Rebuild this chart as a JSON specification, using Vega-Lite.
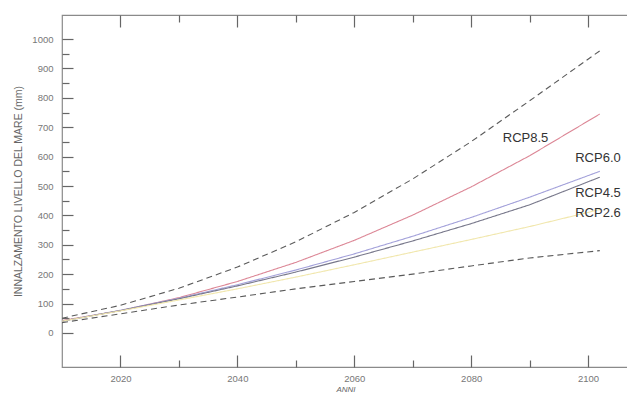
{
  "$schema": "https://vega.github.io/schema/vega-lite/v6.json",
  "width": 567,
  "height": 352,
  "autosize": {"type": "none"},
  "padding": {"left": 62, "top": 15, "right": 0, "bottom": 34},
  "background": "white",
  "config": {
    "font": "Liberation Sans",
    "view": {"stroke": "#8a8a8a", "strokeWidth": 1.2},
    "axis": {"domainColor": "#8a8a8a", "tickColor": "#666", "tickWidth": 1.2, "labelColor": "#777", "labelFontSize": 9.5, "titleColor": "#666", "titleFontWeight": "normal", "grid": false}
  },
  "datasets": {
    "serie": [
      {"anno": 2010, "valore": 50, "serie": "sup"},
      {"anno": 2020, "valore": 94, "serie": "sup"},
      {"anno": 2030, "valore": 152, "serie": "sup"},
      {"anno": 2040, "valore": 224, "serie": "sup"},
      {"anno": 2050, "valore": 310, "serie": "sup"},
      {"anno": 2060, "valore": 410, "serie": "sup"},
      {"anno": 2070, "valore": 524, "serie": "sup"},
      {"anno": 2080, "valore": 651, "serie": "sup"},
      {"anno": 2090, "valore": 790, "serie": "sup"},
      {"anno": 2102, "valore": 960, "serie": "sup"},
      {"anno": 2010, "valore": 42, "serie": "RCP8.5"},
      {"anno": 2020, "valore": 76, "serie": "RCP8.5"},
      {"anno": 2030, "valore": 120, "serie": "RCP8.5"},
      {"anno": 2040, "valore": 175, "serie": "RCP8.5"},
      {"anno": 2050, "valore": 240, "serie": "RCP8.5"},
      {"anno": 2060, "valore": 315, "serie": "RCP8.5"},
      {"anno": 2070, "valore": 401, "serie": "RCP8.5"},
      {"anno": 2080, "valore": 497, "serie": "RCP8.5"},
      {"anno": 2090, "valore": 603, "serie": "RCP8.5"},
      {"anno": 2102, "valore": 745, "serie": "RCP8.5"},
      {"anno": 2010, "valore": 40, "serie": "RCP6.0"},
      {"anno": 2020, "valore": 77, "serie": "RCP6.0"},
      {"anno": 2030, "valore": 118, "serie": "RCP6.0"},
      {"anno": 2040, "valore": 164, "serie": "RCP6.0"},
      {"anno": 2050, "valore": 214, "serie": "RCP6.0"},
      {"anno": 2060, "valore": 269, "serie": "RCP6.0"},
      {"anno": 2070, "valore": 329, "serie": "RCP6.0"},
      {"anno": 2080, "valore": 393, "serie": "RCP6.0"},
      {"anno": 2090, "valore": 462, "serie": "RCP6.0"},
      {"anno": 2102, "valore": 550, "serie": "RCP6.0"},
      {"anno": 2010, "valore": 40, "serie": "RCP4.5"},
      {"anno": 2020, "valore": 76, "serie": "RCP4.5"},
      {"anno": 2030, "valore": 116, "serie": "RCP4.5"},
      {"anno": 2040, "valore": 160, "serie": "RCP4.5"},
      {"anno": 2050, "valore": 207, "serie": "RCP4.5"},
      {"anno": 2060, "valore": 258, "serie": "RCP4.5"},
      {"anno": 2070, "valore": 313, "serie": "RCP4.5"},
      {"anno": 2080, "valore": 372, "serie": "RCP4.5"},
      {"anno": 2090, "valore": 436, "serie": "RCP4.5"},
      {"anno": 2102, "valore": 530, "serie": "RCP4.5"},
      {"anno": 2010, "valore": 40, "serie": "RCP2.6"},
      {"anno": 2020, "valore": 75, "serie": "RCP2.6"},
      {"anno": 2030, "valore": 112, "serie": "RCP2.6"},
      {"anno": 2040, "valore": 150, "serie": "RCP2.6"},
      {"anno": 2050, "valore": 190, "serie": "RCP2.6"},
      {"anno": 2060, "valore": 232, "serie": "RCP2.6"},
      {"anno": 2070, "valore": 275, "serie": "RCP2.6"},
      {"anno": 2080, "valore": 318, "serie": "RCP2.6"},
      {"anno": 2090, "valore": 362, "serie": "RCP2.6"},
      {"anno": 2102, "valore": 420, "serie": "RCP2.6"},
      {"anno": 2010, "valore": 35, "serie": "inf"},
      {"anno": 2020, "valore": 65, "serie": "inf"},
      {"anno": 2030, "valore": 95, "serie": "inf"},
      {"anno": 2040, "valore": 122, "serie": "inf"},
      {"anno": 2050, "valore": 150, "serie": "inf"},
      {"anno": 2060, "valore": 175, "serie": "inf"},
      {"anno": 2070, "valore": 200, "serie": "inf"},
      {"anno": 2080, "valore": 228, "serie": "inf"},
      {"anno": 2090, "valore": 255, "serie": "inf"},
      {"anno": 2102, "valore": 280, "serie": "inf"}
    ],
    "etichette": [
      {"anno": 2085.4, "valore": 663, "testo": "RCP8.5"},
      {"anno": 2097.8, "valore": 595, "testo": "RCP6.0"},
      {"anno": 2097.8, "valore": 476, "testo": "RCP4.5"},
      {"anno": 2097.8, "valore": 408, "testo": "RCP2.6"}
    ]
  },
  "layer": [
    {
      "data": {"name": "serie"},
      "mark": {"type": "line", "strokeWidth": 1.1, "clip": true},
      "encoding": {
        "x": {
          "field": "anno", "type": "quantitative",
          "scale": {"domain": [2010, 2107], "nice": false, "zero": false},
          "axis": {
            "title": "ANNI", "titleFontSize": 8, "titleFontStyle": "italic", "titlePadding": 3,
            "values": [2020, 2030, 2040, 2050, 2060, 2070, 2080, 2090, 2100],
            "format": "d",
            "labelExpr": "datum.value % 20 === 0 ? datum.label : ''",
            "tickSize": {"condition": {"test": "datum.value % 20 === 0", "value": -12}, "value": -7},
            "labelPadding": 18,
            "domain": false
          }
        },
        "y": {
          "field": "valore", "type": "quantitative",
          "scale": {"domain": [-116, 1082], "nice": false, "zero": false},
          "axis": {
            "title": "INNALZAMENTO LIVELLO DEL MARE (mm)", "titleFontSize": 10.5, "titlePadding": 8,
            "values": [0, 50, 100, 150, 200, 250, 300, 350, 400, 450, 500, 550, 600, 650, 700, 750, 800, 850, 900, 950, 1000],
            "format": "d",
            "labelExpr": "datum.value % 100 === 0 ? datum.label : ''",
            "tickSize": {"condition": {"test": "datum.value % 100 === 0", "value": -11}, "value": -7},
            "labelPadding": 20,
            "domain": false
          }
        },
        "color": {
          "field": "serie", "type": "nominal", "legend": null,
          "scale": {"domain": ["sup", "RCP8.5", "RCP6.0", "RCP4.5", "RCP2.6", "inf"],
                    "range": ["#5a5a5a", "#dc8796", "#a3a1da", "#77778a", "#f1e7ad", "#5a5a5a"]}
        },
        "strokeDash": {
          "field": "serie", "type": "nominal", "legend": null,
          "scale": {"domain": ["sup", "RCP8.5", "RCP6.0", "RCP4.5", "RCP2.6", "inf"],
                    "range": [[6, 4], [1, 0], [1, 0], [1, 0], [1, 0], [6, 4]]}
        }
      }
    },
    {
      "data": {"name": "etichette"},
      "mark": {"type": "text", "align": "left", "baseline": "middle", "fontSize": 13, "color": "#333", "font": "Liberation Sans"},
      "encoding": {
        "x": {"field": "anno", "type": "quantitative",
              "axis": {"orient": "top", "title": null, "labels": false, "domain": false,
                       "values": [2020, 2030, 2040, 2050, 2060, 2070, 2080, 2090, 2100],
                       "tickSize": {"condition": {"test": "datum.value % 20 === 0", "value": -12}, "value": -7}}},
        "y": {"field": "valore", "type": "quantitative", "axis": null},
        "text": {"field": "testo"}
      }
    }
  ],
  "resolve": {"axis": {"x": "independent", "y": "independent"}}
}
